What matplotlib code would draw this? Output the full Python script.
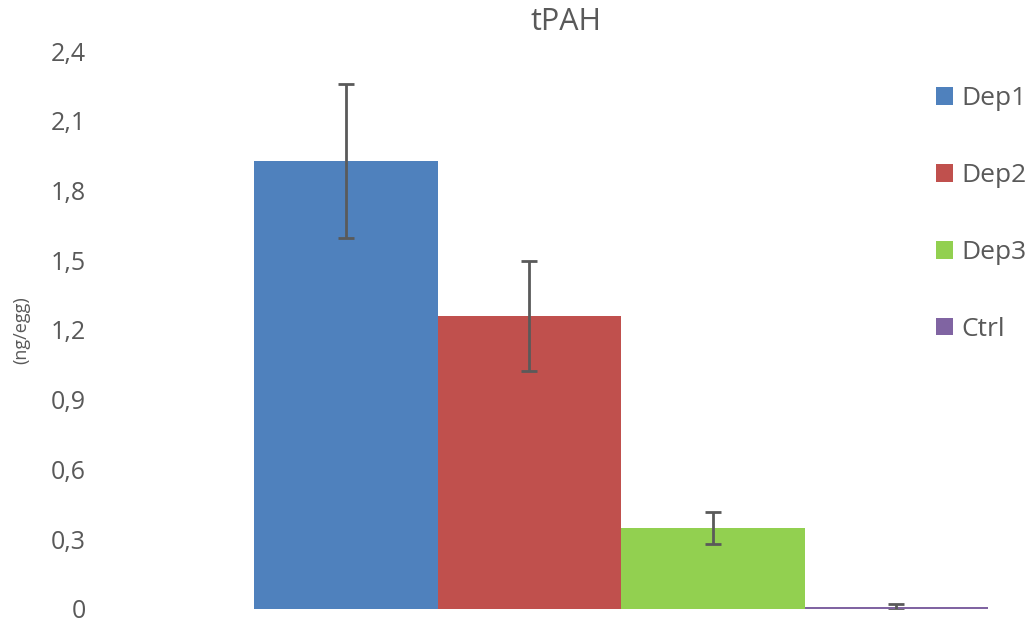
import matplotlib.pyplot as plt
import numpy as np

plt.rcParams['font.family'] = ['Open Sans', 'DejaVu Sans']

# data
series = ["Dep1", "Dep2", "Dep3", "Ctrl"]
values = [1.927, 1.26, 0.348, 0.008]
errors = [0.333, 0.237, 0.068, 0.012]
colors = ["#4F81BD", "#C0504D", "#92D050", "#8064A2"]
yticks = [0, 0.3, 0.6, 0.9, 1.2, 1.5, 1.8, 2.1, 2.4]
ytick_labels = ["0", "0,3", "0,6", "0,9", "1,2", "1,5", "1,8", "2,1", "2,4"]

text_color = "#595959"

fig = plt.figure(figsize=(10.35, 6.25), dpi=100)
ax = fig.add_axes([254 / 1035, 16 / 625, (988 - 254) / 1035, (609 - 51) / 625])

x = np.arange(len(series))
for i, name in enumerate(series):
    ax.bar(x[i], values[i], width=1.0, color=colors[i], label=name,
           yerr=errors[i], error_kw=dict(ecolor="#5a5a5a", elinewidth=2,
                                         capsize=6, capthick=2))

ax.set_xlim(-0.5, 3.5)
ax.set_ylim(0, 2.4)
ax.set_yticks(yticks)
ax.set_yticklabels(ytick_labels)
ax.set_xticks([])
# labels sit far left of the bars, right edge near x=85px
ax.tick_params(axis="y", length=0, pad=121, labelsize=18, labelcolor=text_color)
for s in ax.spines.values():
    s.set_visible(False)

fig.text(21 / 1035, 1 - 330 / 625, "(ng/egg)", rotation=90, ha="center", va="center",
         fontsize=13, color=text_color)
fig.text(566 / 1035, 1 - 22 / 625, "tPAH", ha="center", va="center",
         fontsize=22, color=text_color)

leg = fig.legend(loc="upper left", bbox_to_anchor=(936 / 1035, 1 - 86 / 625),
                 frameon=False, fontsize=19, handlelength=0.65, handleheight=0.65,
                 handletextpad=0.3, labelspacing=1.97, borderpad=0, borderaxespad=0)
for t in leg.get_texts():
    t.set_color(text_color)

fig.savefig("out.png", dpi=100)
